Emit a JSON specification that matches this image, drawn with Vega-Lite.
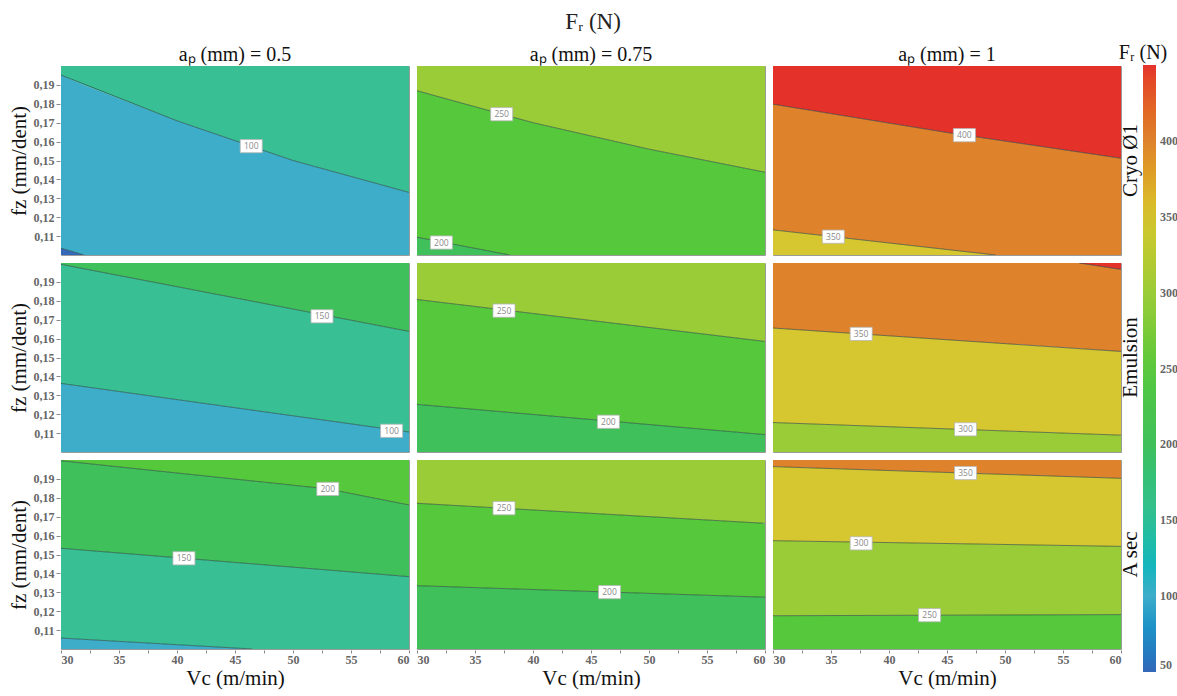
{
  "$schema": "https://vega.github.io/schema/vega-lite/v6.json",
  "padding": {"left": 8, "top": 11, "right": 0, "bottom": 2},
  "background": "white",
  "title": {"text": "Fᵣ (N)", "font": "Liberation Serif", "fontSize": 23, "fontWeight": "normal", "anchor": "middle", "color": "#222", "offset": 9},
  "data": {"values": [
    {"r": "Cryo Ø1", "c": "aₚ (mm) = 0.5", "k": "b", "v": 50, "vc": 30, "lo": 0.1, "hi": 0.1036},
    {"r": "Cryo Ø1", "c": "aₚ (mm) = 0.5", "k": "b", "v": 50, "vc": 32, "lo": 0.1, "hi": 0.1},
    {"r": "Cryo Ø1", "c": "aₚ (mm) = 0.5", "k": "b", "v": 100, "vc": 30, "lo": 0.1036, "hi": 0.1952},
    {"r": "Cryo Ø1", "c": "aₚ (mm) = 0.5", "k": "b", "v": 100, "vc": 32, "lo": 0.1, "hi": 0.190},
    {"r": "Cryo Ø1", "c": "aₚ (mm) = 0.5", "k": "b", "v": 100, "vc": 40, "lo": 0.1, "hi": 0.171},
    {"r": "Cryo Ø1", "c": "aₚ (mm) = 0.5", "k": "b", "v": 100, "vc": 50, "lo": 0.1, "hi": 0.150},
    {"r": "Cryo Ø1", "c": "aₚ (mm) = 0.5", "k": "b", "v": 100, "vc": 60, "lo": 0.1, "hi": 0.1331},
    {"r": "Cryo Ø1", "c": "aₚ (mm) = 0.5", "k": "b", "v": 150, "vc": 30, "lo": 0.1952, "hi": 0.2},
    {"r": "Cryo Ø1", "c": "aₚ (mm) = 0.5", "k": "b", "v": 150, "vc": 32, "lo": 0.190, "hi": 0.2},
    {"r": "Cryo Ø1", "c": "aₚ (mm) = 0.5", "k": "b", "v": 150, "vc": 40, "lo": 0.171, "hi": 0.2},
    {"r": "Cryo Ø1", "c": "aₚ (mm) = 0.5", "k": "b", "v": 150, "vc": 50, "lo": 0.150, "hi": 0.2},
    {"r": "Cryo Ø1", "c": "aₚ (mm) = 0.5", "k": "b", "v": 150, "vc": 60, "lo": 0.1331, "hi": 0.2},
    {"r": "Cryo Ø1", "c": "aₚ (mm) = 0.5", "k": "c", "lv": 50, "vc": 30, "fz": 0.1036},
    {"r": "Cryo Ø1", "c": "aₚ (mm) = 0.5", "k": "c", "lv": 50, "vc": 32, "fz": 0.1},
    {"r": "Cryo Ø1", "c": "aₚ (mm) = 0.5", "k": "c", "lv": 100, "vc": 30, "fz": 0.1952},
    {"r": "Cryo Ø1", "c": "aₚ (mm) = 0.5", "k": "c", "lv": 100, "vc": 40, "fz": 0.171},
    {"r": "Cryo Ø1", "c": "aₚ (mm) = 0.5", "k": "c", "lv": 100, "vc": 50, "fz": 0.150},
    {"r": "Cryo Ø1", "c": "aₚ (mm) = 0.5", "k": "c", "lv": 100, "vc": 60, "fz": 0.1331},
    {"r": "Cryo Ø1", "c": "aₚ (mm) = 0.5", "k": "l", "lab": "100", "vc": 46.4, "fz": 0.1576},

    {"r": "Cryo Ø1", "c": "aₚ (mm) = 0.75", "k": "b", "v": 200, "vc": 30, "lo": 0.1, "hi": 0.1094},
    {"r": "Cryo Ø1", "c": "aₚ (mm) = 0.75", "k": "b", "v": 200, "vc": 38, "lo": 0.1, "hi": 0.1},
    {"r": "Cryo Ø1", "c": "aₚ (mm) = 0.75", "k": "b", "v": 250, "vc": 30, "lo": 0.1094, "hi": 0.1869},
    {"r": "Cryo Ø1", "c": "aₚ (mm) = 0.75", "k": "b", "v": 250, "vc": 38, "lo": 0.1, "hi": 0.1734},
    {"r": "Cryo Ø1", "c": "aₚ (mm) = 0.75", "k": "b", "v": 250, "vc": 40, "lo": 0.1, "hi": 0.170},
    {"r": "Cryo Ø1", "c": "aₚ (mm) = 0.75", "k": "b", "v": 250, "vc": 50, "lo": 0.1, "hi": 0.156},
    {"r": "Cryo Ø1", "c": "aₚ (mm) = 0.75", "k": "b", "v": 250, "vc": 60, "lo": 0.1, "hi": 0.1438},
    {"r": "Cryo Ø1", "c": "aₚ (mm) = 0.75", "k": "b", "v": 300, "vc": 30, "lo": 0.1869, "hi": 0.2},
    {"r": "Cryo Ø1", "c": "aₚ (mm) = 0.75", "k": "b", "v": 300, "vc": 38, "lo": 0.1734, "hi": 0.2},
    {"r": "Cryo Ø1", "c": "aₚ (mm) = 0.75", "k": "b", "v": 300, "vc": 40, "lo": 0.170, "hi": 0.2},
    {"r": "Cryo Ø1", "c": "aₚ (mm) = 0.75", "k": "b", "v": 300, "vc": 50, "lo": 0.156, "hi": 0.2},
    {"r": "Cryo Ø1", "c": "aₚ (mm) = 0.75", "k": "b", "v": 300, "vc": 60, "lo": 0.1438, "hi": 0.2},
    {"r": "Cryo Ø1", "c": "aₚ (mm) = 0.75", "k": "c", "lv": 200, "vc": 30, "fz": 0.1094},
    {"r": "Cryo Ø1", "c": "aₚ (mm) = 0.75", "k": "c", "lv": 200, "vc": 38, "fz": 0.1},
    {"r": "Cryo Ø1", "c": "aₚ (mm) = 0.75", "k": "c", "lv": 250, "vc": 30, "fz": 0.1869},
    {"r": "Cryo Ø1", "c": "aₚ (mm) = 0.75", "k": "c", "lv": 250, "vc": 40, "fz": 0.170},
    {"r": "Cryo Ø1", "c": "aₚ (mm) = 0.75", "k": "c", "lv": 250, "vc": 50, "fz": 0.156},
    {"r": "Cryo Ø1", "c": "aₚ (mm) = 0.75", "k": "c", "lv": 250, "vc": 60, "fz": 0.1438},
    {"r": "Cryo Ø1", "c": "aₚ (mm) = 0.75", "k": "l", "lab": "250", "vc": 37.3, "fz": 0.1745},
    {"r": "Cryo Ø1", "c": "aₚ (mm) = 0.75", "k": "l", "lab": "200", "vc": 32.1, "fz": 0.1066},

    {"r": "Cryo Ø1", "c": "aₚ (mm) = 1", "k": "b", "v": 350, "vc": 30, "lo": 0.1, "hi": 0.1133},
    {"r": "Cryo Ø1", "c": "aₚ (mm) = 1", "k": "b", "v": 350, "vc": 45, "lo": 0.1, "hi": 0.1029},
    {"r": "Cryo Ø1", "c": "aₚ (mm) = 1", "k": "b", "v": 350, "vc": 49.2, "lo": 0.1, "hi": 0.1},
    {"r": "Cryo Ø1", "c": "aₚ (mm) = 1", "k": "b", "v": 400, "vc": 30, "lo": 0.1133, "hi": 0.1798},
    {"r": "Cryo Ø1", "c": "aₚ (mm) = 1", "k": "b", "v": 400, "vc": 45, "lo": 0.1029, "hi": 0.1648},
    {"r": "Cryo Ø1", "c": "aₚ (mm) = 1", "k": "b", "v": 400, "vc": 49.2, "lo": 0.1, "hi": 0.1610},
    {"r": "Cryo Ø1", "c": "aₚ (mm) = 1", "k": "b", "v": 400, "vc": 60, "lo": 0.1, "hi": 0.1512},
    {"r": "Cryo Ø1", "c": "aₚ (mm) = 1", "k": "b", "v": 450, "vc": 30, "lo": 0.1798, "hi": 0.2},
    {"r": "Cryo Ø1", "c": "aₚ (mm) = 1", "k": "b", "v": 450, "vc": 45, "lo": 0.1648, "hi": 0.2},
    {"r": "Cryo Ø1", "c": "aₚ (mm) = 1", "k": "b", "v": 450, "vc": 49.2, "lo": 0.1610, "hi": 0.2},
    {"r": "Cryo Ø1", "c": "aₚ (mm) = 1", "k": "b", "v": 450, "vc": 60, "lo": 0.1512, "hi": 0.2},
    {"r": "Cryo Ø1", "c": "aₚ (mm) = 1", "k": "c", "lv": 350, "vc": 30, "fz": 0.1133},
    {"r": "Cryo Ø1", "c": "aₚ (mm) = 1", "k": "c", "lv": 350, "vc": 45, "fz": 0.1029},
    {"r": "Cryo Ø1", "c": "aₚ (mm) = 1", "k": "c", "lv": 350, "vc": 49.2, "fz": 0.1},
    {"r": "Cryo Ø1", "c": "aₚ (mm) = 1", "k": "c", "lv": 400, "vc": 30, "fz": 0.1798},
    {"r": "Cryo Ø1", "c": "aₚ (mm) = 1", "k": "c", "lv": 400, "vc": 45, "fz": 0.1648},
    {"r": "Cryo Ø1", "c": "aₚ (mm) = 1", "k": "c", "lv": 400, "vc": 60, "fz": 0.1512},
    {"r": "Cryo Ø1", "c": "aₚ (mm) = 1", "k": "l", "lab": "400", "vc": 46.5, "fz": 0.1634},
    {"r": "Cryo Ø1", "c": "aₚ (mm) = 1", "k": "l", "lab": "350", "vc": 35.2, "fz": 0.1097},

    {"r": "Emulsion", "c": "aₚ (mm) = 0.5", "k": "b", "v": 100, "vc": 30, "lo": 0.1, "hi": 0.1363},
    {"r": "Emulsion", "c": "aₚ (mm) = 0.5", "k": "b", "v": 100, "vc": 60, "lo": 0.1, "hi": 0.1106},
    {"r": "Emulsion", "c": "aₚ (mm) = 0.5", "k": "b", "v": 150, "vc": 30, "lo": 0.1363, "hi": 0.1993},
    {"r": "Emulsion", "c": "aₚ (mm) = 0.5", "k": "b", "v": 150, "vc": 60, "lo": 0.1106, "hi": 0.1638},
    {"r": "Emulsion", "c": "aₚ (mm) = 0.5", "k": "b", "v": 200, "vc": 30, "lo": 0.1993, "hi": 0.2},
    {"r": "Emulsion", "c": "aₚ (mm) = 0.5", "k": "b", "v": 200, "vc": 60, "lo": 0.1638, "hi": 0.2},
    {"r": "Emulsion", "c": "aₚ (mm) = 0.5", "k": "c", "lv": 100, "vc": 30, "fz": 0.1363},
    {"r": "Emulsion", "c": "aₚ (mm) = 0.5", "k": "c", "lv": 100, "vc": 60, "fz": 0.1106},
    {"r": "Emulsion", "c": "aₚ (mm) = 0.5", "k": "c", "lv": 150, "vc": 30, "fz": 0.1993},
    {"r": "Emulsion", "c": "aₚ (mm) = 0.5", "k": "c", "lv": 150, "vc": 60, "fz": 0.1638},
    {"r": "Emulsion", "c": "aₚ (mm) = 0.5", "k": "l", "lab": "150", "vc": 52.5, "fz": 0.1718},
    {"r": "Emulsion", "c": "aₚ (mm) = 0.5", "k": "l", "lab": "100", "vc": 58.5, "fz": 0.1112},

    {"r": "Emulsion", "c": "aₚ (mm) = 0.75", "k": "b", "v": 200, "vc": 30, "lo": 0.1, "hi": 0.1252},
    {"r": "Emulsion", "c": "aₚ (mm) = 0.75", "k": "b", "v": 200, "vc": 60, "lo": 0.1, "hi": 0.1092},
    {"r": "Emulsion", "c": "aₚ (mm) = 0.75", "k": "b", "v": 250, "vc": 30, "lo": 0.1252, "hi": 0.1807},
    {"r": "Emulsion", "c": "aₚ (mm) = 0.75", "k": "b", "v": 250, "vc": 60, "lo": 0.1092, "hi": 0.1585},
    {"r": "Emulsion", "c": "aₚ (mm) = 0.75", "k": "b", "v": 300, "vc": 30, "lo": 0.1807, "hi": 0.2},
    {"r": "Emulsion", "c": "aₚ (mm) = 0.75", "k": "b", "v": 300, "vc": 60, "lo": 0.1585, "hi": 0.2},
    {"r": "Emulsion", "c": "aₚ (mm) = 0.75", "k": "c", "lv": 200, "vc": 30, "fz": 0.1252},
    {"r": "Emulsion", "c": "aₚ (mm) = 0.75", "k": "c", "lv": 200, "vc": 60, "fz": 0.1092},
    {"r": "Emulsion", "c": "aₚ (mm) = 0.75", "k": "c", "lv": 250, "vc": 30, "fz": 0.1807},
    {"r": "Emulsion", "c": "aₚ (mm) = 0.75", "k": "c", "lv": 250, "vc": 60, "fz": 0.1585},
    {"r": "Emulsion", "c": "aₚ (mm) = 0.75", "k": "l", "lab": "250", "vc": 37.5, "fz": 0.1748},
    {"r": "Emulsion", "c": "aₚ (mm) = 0.75", "k": "l", "lab": "200", "vc": 46.5, "fz": 0.1160},

    {"r": "Emulsion", "c": "aₚ (mm) = 1", "k": "b", "v": 300, "vc": 30, "lo": 0.1, "hi": 0.1156},
    {"r": "Emulsion", "c": "aₚ (mm) = 1", "k": "b", "v": 300, "vc": 60, "lo": 0.1, "hi": 0.1089},
    {"r": "Emulsion", "c": "aₚ (mm) = 1", "k": "b", "v": 350, "vc": 30, "lo": 0.1156, "hi": 0.1656},
    {"r": "Emulsion", "c": "aₚ (mm) = 1", "k": "b", "v": 350, "vc": 60, "lo": 0.1089, "hi": 0.1532},
    {"r": "Emulsion", "c": "aₚ (mm) = 1", "k": "b", "v": 400, "vc": 30, "lo": 0.1656, "hi": 0.2},
    {"r": "Emulsion", "c": "aₚ (mm) = 1", "k": "b", "v": 400, "vc": 56.4, "lo": 0.1547, "hi": 0.2},
    {"r": "Emulsion", "c": "aₚ (mm) = 1", "k": "b", "v": 400, "vc": 60, "lo": 0.1532, "hi": 0.1966},
    {"r": "Emulsion", "c": "aₚ (mm) = 1", "k": "b", "v": 450, "vc": 56.4, "lo": 0.2, "hi": 0.2},
    {"r": "Emulsion", "c": "aₚ (mm) = 1", "k": "b", "v": 450, "vc": 60, "lo": 0.1966, "hi": 0.2},
    {"r": "Emulsion", "c": "aₚ (mm) = 1", "k": "c", "lv": 300, "vc": 30, "fz": 0.1156},
    {"r": "Emulsion", "c": "aₚ (mm) = 1", "k": "c", "lv": 300, "vc": 60, "fz": 0.1089},
    {"r": "Emulsion", "c": "aₚ (mm) = 1", "k": "c", "lv": 350, "vc": 30, "fz": 0.1656},
    {"r": "Emulsion", "c": "aₚ (mm) = 1", "k": "c", "lv": 350, "vc": 60, "fz": 0.1532},
    {"r": "Emulsion", "c": "aₚ (mm) = 1", "k": "c", "lv": 400, "vc": 56.4, "fz": 0.2},
    {"r": "Emulsion", "c": "aₚ (mm) = 1", "k": "c", "lv": 400, "vc": 60, "fz": 0.1966},
    {"r": "Emulsion", "c": "aₚ (mm) = 1", "k": "l", "lab": "350", "vc": 37.6, "fz": 0.1625},
    {"r": "Emulsion", "c": "aₚ (mm) = 1", "k": "l", "lab": "300", "vc": 46.6, "fz": 0.1120},

    {"r": "A sec", "c": "aₚ (mm) = 0.5", "k": "b", "v": 100, "vc": 30, "lo": 0.1, "hi": 0.1058},
    {"r": "A sec", "c": "aₚ (mm) = 0.5", "k": "b", "v": 100, "vc": 46.5, "lo": 0.1, "hi": 0.1},
    {"r": "A sec", "c": "aₚ (mm) = 0.5", "k": "b", "v": 150, "vc": 30, "lo": 0.1058, "hi": 0.1533},
    {"r": "A sec", "c": "aₚ (mm) = 0.5", "k": "b", "v": 150, "vc": 45, "lo": 0.1005, "hi": 0.1458},
    {"r": "A sec", "c": "aₚ (mm) = 0.5", "k": "b", "v": 150, "vc": 46.5, "lo": 0.1, "hi": 0.1451},
    {"r": "A sec", "c": "aₚ (mm) = 0.5", "k": "b", "v": 150, "vc": 53, "lo": 0.1, "hi": 0.1418},
    {"r": "A sec", "c": "aₚ (mm) = 0.5", "k": "b", "v": 150, "vc": 60, "lo": 0.1, "hi": 0.1383},
    {"r": "A sec", "c": "aₚ (mm) = 0.5", "k": "b", "v": 200, "vc": 30, "lo": 0.1533, "hi": 0.1996},
    {"r": "A sec", "c": "aₚ (mm) = 0.5", "k": "b", "v": 200, "vc": 45, "lo": 0.1458, "hi": 0.1899},
    {"r": "A sec", "c": "aₚ (mm) = 0.5", "k": "b", "v": 200, "vc": 46.5, "lo": 0.1451, "hi": 0.1889},
    {"r": "A sec", "c": "aₚ (mm) = 0.5", "k": "b", "v": 200, "vc": 53, "lo": 0.1418, "hi": 0.1847},
    {"r": "A sec", "c": "aₚ (mm) = 0.5", "k": "b", "v": 200, "vc": 60, "lo": 0.1383, "hi": 0.1762},
    {"r": "A sec", "c": "aₚ (mm) = 0.5", "k": "b", "v": 250, "vc": 30, "lo": 0.1996, "hi": 0.2},
    {"r": "A sec", "c": "aₚ (mm) = 0.5", "k": "b", "v": 250, "vc": 45, "lo": 0.1899, "hi": 0.2},
    {"r": "A sec", "c": "aₚ (mm) = 0.5", "k": "b", "v": 250, "vc": 46.5, "lo": 0.1889, "hi": 0.2},
    {"r": "A sec", "c": "aₚ (mm) = 0.5", "k": "b", "v": 250, "vc": 53, "lo": 0.1847, "hi": 0.2},
    {"r": "A sec", "c": "aₚ (mm) = 0.5", "k": "b", "v": 250, "vc": 60, "lo": 0.1762, "hi": 0.2},
    {"r": "A sec", "c": "aₚ (mm) = 0.5", "k": "c", "lv": 100, "vc": 30, "fz": 0.1058},
    {"r": "A sec", "c": "aₚ (mm) = 0.5", "k": "c", "lv": 100, "vc": 46.5, "fz": 0.1},
    {"r": "A sec", "c": "aₚ (mm) = 0.5", "k": "c", "lv": 150, "vc": 30, "fz": 0.1533},
    {"r": "A sec", "c": "aₚ (mm) = 0.5", "k": "c", "lv": 150, "vc": 60, "fz": 0.1383},
    {"r": "A sec", "c": "aₚ (mm) = 0.5", "k": "c", "lv": 200, "vc": 30, "fz": 0.1996},
    {"r": "A sec", "c": "aₚ (mm) = 0.5", "k": "c", "lv": 200, "vc": 45, "fz": 0.1899},
    {"r": "A sec", "c": "aₚ (mm) = 0.5", "k": "c", "lv": 200, "vc": 53, "fz": 0.1847},
    {"r": "A sec", "c": "aₚ (mm) = 0.5", "k": "c", "lv": 200, "vc": 60, "fz": 0.1762},
    {"r": "A sec", "c": "aₚ (mm) = 0.5", "k": "l", "lab": "200", "vc": 53, "fz": 0.1847},
    {"r": "A sec", "c": "aₚ (mm) = 0.5", "k": "l", "lab": "150", "vc": 40.6, "fz": 0.1480},

    {"r": "A sec", "c": "aₚ (mm) = 0.75", "k": "b", "v": 200, "vc": 30, "lo": 0.1, "hi": 0.1335},
    {"r": "A sec", "c": "aₚ (mm) = 0.75", "k": "b", "v": 200, "vc": 60, "lo": 0.1, "hi": 0.1274},
    {"r": "A sec", "c": "aₚ (mm) = 0.75", "k": "b", "v": 250, "vc": 30, "lo": 0.1335, "hi": 0.1771},
    {"r": "A sec", "c": "aₚ (mm) = 0.75", "k": "b", "v": 250, "vc": 60, "lo": 0.1274, "hi": 0.1665},
    {"r": "A sec", "c": "aₚ (mm) = 0.75", "k": "b", "v": 300, "vc": 30, "lo": 0.1771, "hi": 0.2},
    {"r": "A sec", "c": "aₚ (mm) = 0.75", "k": "b", "v": 300, "vc": 60, "lo": 0.1665, "hi": 0.2},
    {"r": "A sec", "c": "aₚ (mm) = 0.75", "k": "c", "lv": 200, "vc": 30, "fz": 0.1335},
    {"r": "A sec", "c": "aₚ (mm) = 0.75", "k": "c", "lv": 200, "vc": 60, "fz": 0.1274},
    {"r": "A sec", "c": "aₚ (mm) = 0.75", "k": "c", "lv": 250, "vc": 30, "fz": 0.1771},
    {"r": "A sec", "c": "aₚ (mm) = 0.75", "k": "c", "lv": 250, "vc": 60, "fz": 0.1665},
    {"r": "A sec", "c": "aₚ (mm) = 0.75", "k": "l", "lab": "250", "vc": 37.5, "fz": 0.1745},
    {"r": "A sec", "c": "aₚ (mm) = 0.75", "k": "l", "lab": "200", "vc": 46.6, "fz": 0.1301},

    {"r": "A sec", "c": "aₚ (mm) = 1", "k": "b", "v": 250, "vc": 30, "lo": 0.1, "hi": 0.1176},
    {"r": "A sec", "c": "aₚ (mm) = 1", "k": "b", "v": 250, "vc": 60, "lo": 0.1, "hi": 0.1182},
    {"r": "A sec", "c": "aₚ (mm) = 1", "k": "b", "v": 300, "vc": 30, "lo": 0.1176, "hi": 0.1573},
    {"r": "A sec", "c": "aₚ (mm) = 1", "k": "b", "v": 300, "vc": 60, "lo": 0.1182, "hi": 0.1543},
    {"r": "A sec", "c": "aₚ (mm) = 1", "k": "b", "v": 350, "vc": 30, "lo": 0.1573, "hi": 0.1965},
    {"r": "A sec", "c": "aₚ (mm) = 1", "k": "b", "v": 350, "vc": 60, "lo": 0.1543, "hi": 0.1903},
    {"r": "A sec", "c": "aₚ (mm) = 1", "k": "b", "v": 400, "vc": 30, "lo": 0.1965, "hi": 0.2},
    {"r": "A sec", "c": "aₚ (mm) = 1", "k": "b", "v": 400, "vc": 60, "lo": 0.1903, "hi": 0.2},
    {"r": "A sec", "c": "aₚ (mm) = 1", "k": "c", "lv": 250, "vc": 30, "fz": 0.1176},
    {"r": "A sec", "c": "aₚ (mm) = 1", "k": "c", "lv": 250, "vc": 60, "fz": 0.1182},
    {"r": "A sec", "c": "aₚ (mm) = 1", "k": "c", "lv": 300, "vc": 30, "fz": 0.1573},
    {"r": "A sec", "c": "aₚ (mm) = 1", "k": "c", "lv": 300, "vc": 60, "fz": 0.1543},
    {"r": "A sec", "c": "aₚ (mm) = 1", "k": "c", "lv": 350, "vc": 30, "fz": 0.1965},
    {"r": "A sec", "c": "aₚ (mm) = 1", "k": "c", "lv": 350, "vc": 60, "fz": 0.1903},
    {"r": "A sec", "c": "aₚ (mm) = 1", "k": "l", "lab": "350", "vc": 46.6, "fz": 0.1931},
    {"r": "A sec", "c": "aₚ (mm) = 1", "k": "l", "lab": "300", "vc": 37.6, "fz": 0.1559},
    {"r": "A sec", "c": "aₚ (mm) = 1", "k": "l", "lab": "250", "vc": 43.5, "fz": 0.1179}
  ]},
  "facet": {
    "row": {"field": "r", "type": "nominal", "sort": ["Cryo Ø1", "Emulsion", "A sec"],
      "header": {"title": null, "labelOrient": "right", "labelAngle": -90, "labelFont": "Liberation Serif", "labelFontSize": 21, "labelColor": "#111", "labelPadding": -12}},
    "column": {"field": "c", "type": "nominal", "sort": ["aₚ (mm) = 0.5", "aₚ (mm) = 0.75", "aₚ (mm) = 1"],
      "header": {"title": null, "labelFont": "Liberation Serif", "labelFontSize": 20, "labelColor": "#111", "labelPadding": 0}}
  },
  "spacing": {"row": 6, "column": 6},
  "spec": {
    "width": 348,
    "height": 189,
    "encoding": {
      "x": {"field": "vc", "type": "quantitative",
        "scale": {"domain": [30, 60], "nice": false, "zero": false},
        "axis": {"title": "Vc (m/min)", "tickCount": 30, "values": [30, 32.5, 35, 37.5, 40, 42.5, 45, 47.5, 50, 52.5, 55, 57.5, 60],
          "labelExpr": "datum.value % 5 == 0 ? datum.label : ''", "tickSize": 3, "labelPadding": 1, "titlePadding": 2}}
    },
    "layer": [
      {
        "transform": [{"filter": "datum.k == 'b'"}],
        "mark": {"type": "area", "orient": "vertical", "opacity": 1, "clip": true},
        "encoding": {
          "y": {"field": "hi", "type": "quantitative", "scale": {"domain": [0.1, 0.2], "nice": false, "zero": false},
            "axis": {"title": "fz (mm/dent)", "tickCount": 30, "values": [0.11, 0.12, 0.13, 0.14, 0.15, 0.16, 0.17, 0.18, 0.19],
              "labelExpr": "replace(format(datum.value, '.2f'), '.', ',')"}},
          "y2": {"field": "lo"},
          "detail": {"field": "v", "type": "nominal"},
          "color": {"field": "v", "type": "quantitative",
            "scale": {"type": "linear", "domain": [50, 100, 150, 200, 250, 300, 350, 400, 450],
              "range": ["#3468b8", "#3eadca", "#39bf94", "#40c05a", "#56c83c", "#9acc38", "#d6c630", "#de822c", "#e4322a"]},
            "legend": {"title": "Fᵣ (N)", "values": [50, 100, 150, 200, 250, 300, 350, 400],
              "orient": "none", "legendX": 1058, "legendY": -23,
              "gradientLength": 607, "gradientThickness": 13, "gradientStrokeWidth": 0,
              "titleFont": "Liberation Serif", "titleFontSize": 20, "titleFontWeight": "normal", "titleColor": "#111",
              "titleAnchor": "start", "titleAlign": "center", "titlePadding": 2,
              "labelFont": "Liberation Serif", "labelFontSize": 12, "labelFontWeight": "bold", "labelColor": "#666",
              "labelOffset": 4}}
        }
      },
      {
        "transform": [{"filter": "datum.k == 'c'"}],
        "mark": {"type": "line", "color": "#1c3c38", "opacity": 0.6, "strokeWidth": 1, "clip": true},
        "encoding": {
          "y": {"field": "fz", "type": "quantitative"},
          "detail": {"field": "lv", "type": "nominal"}
        }
      },
      {
        "transform": [{"filter": "datum.k == 'l'"}],
        "mark": {"type": "point", "shape": "M-1,-0.6H1V0.6H-1Z", "size": 484, "filled": true, "fill": "white", "stroke": "#b8b8b8", "strokeWidth": 0.8, "opacity": 1},
        "encoding": {
          "y": {"field": "fz", "type": "quantitative"}
        }
      },
      {
        "transform": [{"filter": "datum.k == 'l'"}],
        "mark": {"type": "text", "font": "Open Sans", "fontSize": 8.5, "color": "#8a8a8a"},
        "encoding": {
          "y": {"field": "fz", "type": "quantitative"},
          "text": {"field": "lab", "type": "nominal"}
        }
      }
    ]
  },
  "config": {
    "font": "Liberation Serif",
    "view": {"stroke": "#9a9a9a", "strokeWidth": 1},
    "axis": {
      "domain": false, "grid": false, "labelOverlap": false,
      "tickColor": "#888", "tickSize": 4,
      "labelFont": "Liberation Serif", "labelFontSize": 12, "labelFontWeight": "bold", "labelColor": "#666",
      "titleFont": "Liberation Serif", "titleFontSize": 21, "titleFontWeight": "normal", "titleColor": "#111",
      "titlePadding": 4
    }
  }
}
